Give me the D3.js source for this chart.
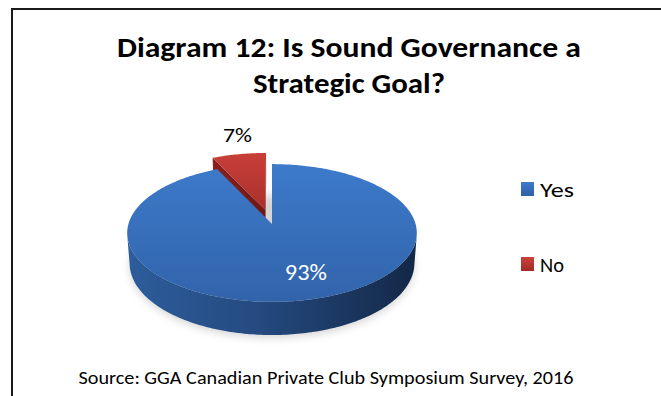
<!DOCTYPE html>
<html>
<head>
<meta charset="utf-8">
<script src="https://cdn.jsdelivr.net/npm/d3@7"></script>
<style>
  html, body { margin: 0; padding: 0; background: #fff; }
  svg { display: block; }
</style>
</head>
<body>
<svg id="chart" width="661" height="396"></svg>
<script>
// ---- data ----
const categories = ["Yes", "No"];
const values = [93, 7];
const valueLabels = ["93%", "7%"];
const titleLines = ["Diagram 12: Is Sound Governance a", "Strategic Goal?"];
const sourceNote = "Source: GGA Canadian Private Club Symposium Survey, 2016";

// ---- layout ----
const W = 661, H = 396;
const FONT = "Carlito, Calibri, Lato, 'Open Sans', sans-serif";
const svg = d3.select("#chart");
const defs = svg.append("defs");

// chart frame (top and left edges in view)
svg.append("path")
  .attr("d", `M12,${H} V9 H${W}`)
  .attr("fill", "none")
  .attr("stroke", "#1a1a1a")
  .attr("stroke-width", 2);

// text squeezed to a set width while keeping its size
function label(x, y, str, size, width, opts = {}) {
  const el = svg.append("text")
    .attr("x", x).attr("y", y)
    .attr("text-anchor", opts.anchor || "middle")
    .attr("font-family", FONT)
    .attr("font-weight", opts.weight || "normal")
    .attr("font-size", size)
    .attr("fill", opts.fill || "#000")
    .text(str);
  if (opts.baseline) el.attr("dominant-baseline", opts.baseline);
  if (width) el.attr("textLength", width).attr("lengthAdjust", "spacingAndGlyphs");
  return el;
}

// title
const titleSpec = [{ y: 57, w: 464 }, { y: 93, w: 192 }];
titleLines.forEach((t, i) =>
  label(349, titleSpec[i].y, t, 28, titleSpec[i].w, { weight: "bold" }));

// source note
label(326, 384, sourceNote, 18.5, 495);

// ---- 3D pie: perspective projection of a flat cylinder ----
const cam = { cx: 272, cy: 224, F: 972, D: 6.77, alpha: Math.asin(0.4716) };
const depth = 0.2427;          // cylinder height (radius = 1)
const explode = [0, 0.22];     // radial offset of each slice
const ca = Math.cos(cam.alpha), sa = Math.sin(cam.alpha);
const eye = [0, cam.D * sa, -cam.D * ca];

function proj(X, Y, Z) {
  const yc = Y * ca + Z * sa;
  const zc = cam.D + Z * ca - Y * sa;
  return [cam.cx + cam.F * X / zc, cam.cy - cam.F * yc / zc];
}
// point on the disk at pie angle a (clockwise from 12 o'clock), radius r, height Y
function pt(a, r, Y, off) {
  return proj(off[0] + r * Math.sin(a), Y, off[1] + r * Math.cos(a));
}
const line = d3.line();

const pie = d3.pie().sort(null).startAngle(0).endAngle(2 * Math.PI);
const arcs = pie(values).map((d, i) => {
  const mid = (d.startAngle + d.endAngle) / 2;
  const e = explode[i];
  return { ...d, i, mid, off: [e * Math.sin(mid), e * Math.cos(mid)] };
});

// gradients
function linGrad(id, x1, y1, x2, y2, stops, units) {
  const g = defs.append("linearGradient").attr("id", id)
    .attr("x1", x1).attr("y1", y1).attr("x2", x2).attr("y2", y2);
  if (units) g.attr("gradientUnits", units);
  stops.forEach(s => g.append("stop").attr("offset", s[0]).attr("stop-color", s[1]));
}
linGrad("topBlue", 0, 160, 0, 305, [[0, "#3d7bcb"], [1, "#3163aa"]], "userSpaceOnUse");
linGrad("sideBlue", 125, 0, 420, 0, [[0, "#2d5d9c"], [0.45, "#244a80"], [1, "#132745"]], "userSpaceOnUse");
linGrad("topRed", 0, 150, 0, 225, [[0, "#c9403a"], [1, "#a32c28"]], "userSpaceOnUse");
linGrad("sideRed", 0, 0, 1, 0, [[0, "#8a211e"], [1, "#6e1715"]]);
linGrad("legBlue", 0, 0, 0, 1, [[0, "#3d7bcb"], [1, "#2f60a6"]]);
linGrad("legRed", 0, 0, 0, 1, [[0, "#cc423c"], [1, "#a02b27"]]);
const topFill = ["url(#topBlue)", "url(#topRed)"];
const sideFill = ["url(#sideBlue)", "url(#sideRed)"];
const legFill = ["url(#legBlue)", "url(#legRed)"];

// soft shadow under the pie
const blur = defs.append("filter").attr("id", "soft")
  .attr("x", "-20%").attr("y", "-40%").attr("width", "140%").attr("height", "180%");
blur.append("feGaussianBlur").attr("stdDeviation", 4);
const shadowPts = d3.range(0, 2 * Math.PI, Math.PI / 90).map(a => {
  const p = pt(a, 1.0, -depth, [0, 0]);
  return [p[0], p[1] + 3];
});
svg.append("path")
  .attr("d", line(shadowPts) + "Z")
  .attr("fill", "#000").attr("opacity", 0.16)
  .attr("filter", "url(#soft)");

const pieG = svg.append("g");

// is a face with outward normal n at point p facing the eye?
function facing(n, p) {
  return n[0] * (eye[0] - p[0]) + n[1] * (eye[1] - p[1]) + n[2] * (eye[2] - p[2]) > 0;
}

function drawSlice(d) {
  const g = pieG.append("g");
  const off = d.off, a0 = d.startAngle, a1 = d.endAngle;
  const steps = Math.max(8, Math.ceil((a1 - a0) / (Math.PI / 180)));
  const angles = d3.range(steps + 1).map(k => a0 + (a1 - a0) * k / steps);

  // radial cut faces
  [[a0, -1], [a1, 1]].forEach(([a, s]) => {
    const n = [s * Math.cos(a), 0, -s * Math.sin(a)];
    const p = [off[0] + 0.5 * Math.sin(a), -depth / 2, off[1] + 0.5 * Math.cos(a)];
    if (!facing(n, p)) return;
    const poly = [pt(a, 0, 0, off), pt(a, 1, 0, off), pt(a, 1, -depth, off), pt(a, 0, -depth, off)];
    g.append("path").attr("d", line(poly) + "Z").attr("fill", sideFill[d.i]);
  });

  // outer wall: runs of angles whose surface faces the eye
  let run = [];
  const runs = [];
  angles.forEach(a => {
    const n = [Math.sin(a), 0, Math.cos(a)];
    const p = [off[0] + Math.sin(a), -depth / 2, off[1] + Math.cos(a)];
    if (facing(n, p)) run.push(a);
    else if (run.length) { runs.push(run); run = []; }
  });
  if (run.length) runs.push(run);
  runs.forEach(r => {
    const poly = r.map(a => pt(a, 1, 0, off))
      .concat(r.slice().reverse().map(a => pt(a, 1, -depth, off)));
    g.append("path").attr("d", line(poly) + "Z").attr("fill", sideFill[d.i]);
  });

  // top face
  const topPoly = [pt(0, 0, 0, off)].concat(angles.map(a => pt(a, 1, 0, off)));
  g.append("path").attr("d", line(topPoly) + "Z").attr("fill", topFill[d.i]);
}

// draw far slices first
arcs.slice().sort((a, b) => Math.cos(b.mid) - Math.cos(a.mid)).forEach(drawSlice);

// value labels
const labelSpec = [
  { r: 0.72, dx: 9, dy: -4, fill: "#fff", size: 22, w: 42 },
  { r: 1.42, dx: 8, dy: 1, fill: "#000", size: 20, w: 29 }
];
arcs.forEach(d => {
  const s = labelSpec[d.i];
  const p = pt(d.mid, s.r, 0, d.off);
  label(p[0] + s.dx, p[1] + s.dy, valueLabels[d.i], s.size, s.w,
    { fill: s.fill, baseline: "central" });
});

// legend
const legY = d3.scalePoint().domain(categories).range([189, 264]);
const legW = [34, 24];
categories.forEach((c, i) => {
  const y = legY(c);
  svg.append("rect")
    .attr("x", 521).attr("y", y - 7).attr("width", 13).attr("height", 14)
    .attr("fill", legFill[i]);
  label(540, y + 1, c, 21, legW[i], { anchor: "start", baseline: "central" });
});
</script>
</body>
</html>
